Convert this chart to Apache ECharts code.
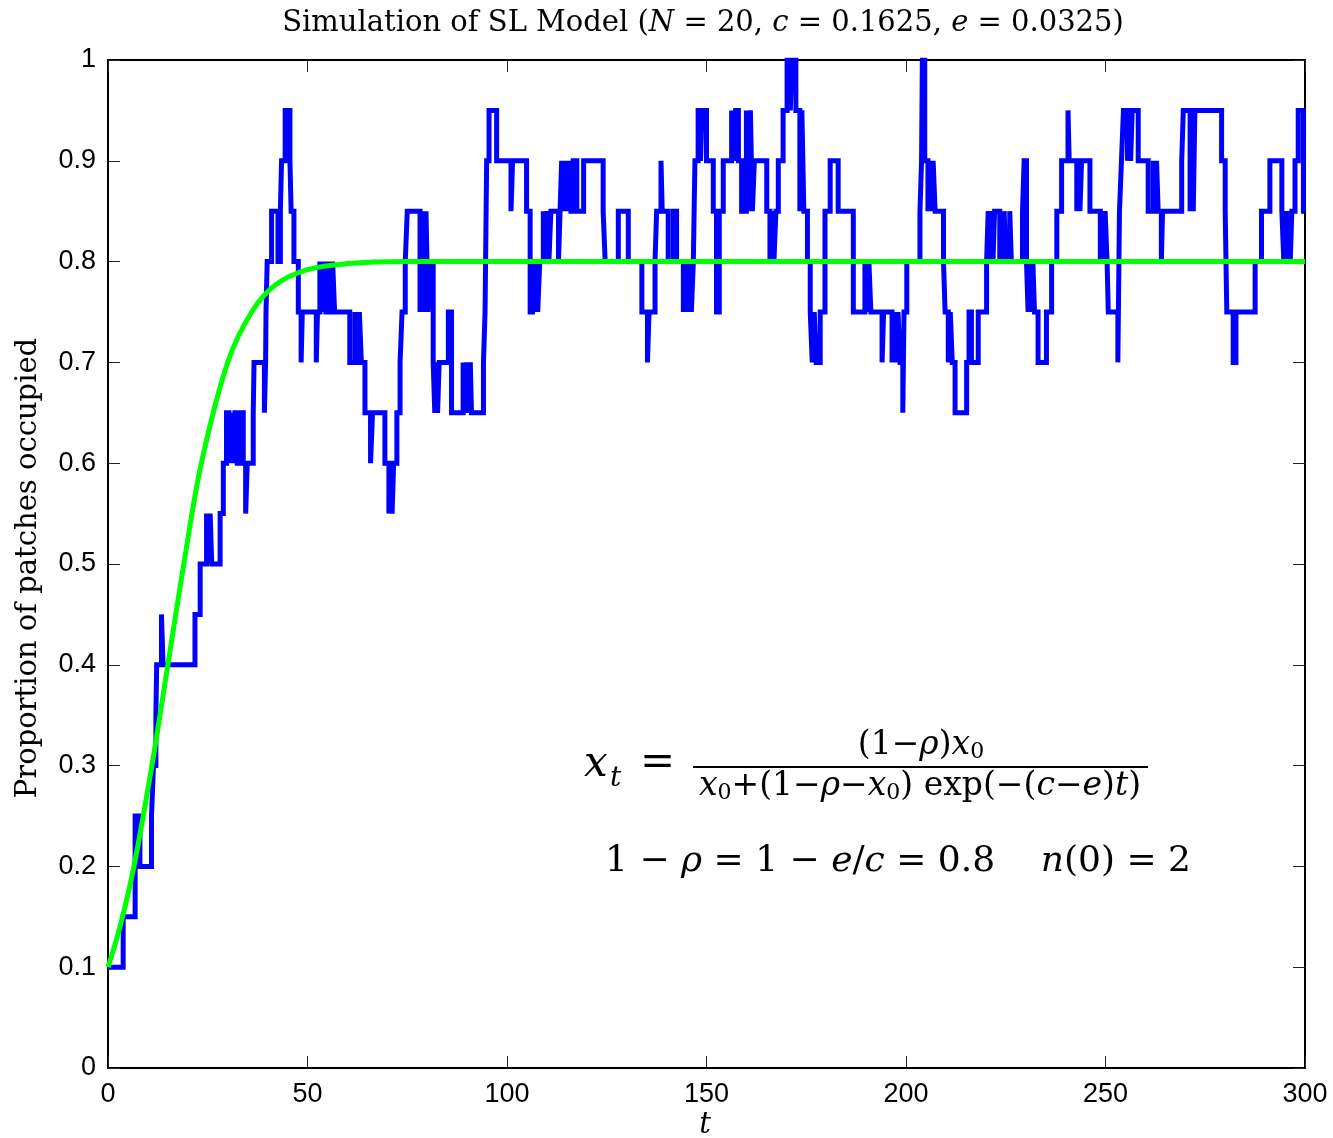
<!DOCTYPE html>
<html>
<head>
<meta charset="utf-8">
<script src="https://cdn.jsdelivr.net/npm/echarts@6/dist/echarts.min.js"></script>
<style>
  html, body { margin: 0; padding: 0; background: #fff; }
  #main { width: 1333px; height: 1138px; }
</style>
</head>
<body>
<div id="main"></div>
<script>
// simulated run: time of each change and proportion occupied from then on
var stepT = [0, 3.8, 6.8, 8.0, 10.9, 11.4, 12.0, 12.2, 13.4, 13.8, 21.8, 23.1, 24.7, 25.2, 25.6, 26.0, 28.1, 28.9,
  29.7, 30.3, 30.8, 31.3, 31.8, 32.4, 33.0, 33.9, 34.5, 34.9, 36.4, 36.6, 39.2, 39.5, 39.6, 39.9, 41.0, 42.6, 43.2,
  43.5, 44.4, 45.6, 45.9, 46.6, 47.7, 48.4, 48.7, 52.2, 52.5, 53.1, 53.6, 54.1, 54.6, 55.2, 55.7, 56.3, 56.8,
  60.6, 61.9, 62.4, 63.0, 63.5, 64.4, 65.8, 66.3, 69.4, 70.4, 70.9, 71.2, 71.6, 72.4, 73.2, 73.7, 74.5, 75.0,
  78.2, 78.7, 79.2, 79.7, 80.2, 80.7, 81.5, 81.9, 82.3, 82.6, 83.0, 85.3, 86.1, 89.0, 89.4, 89.8, 90.3, 90.8, 91.1,
  94.1, 94.5, 94.9, 95.5, 97.4, 101.0, 101.4, 104.9, 105.8, 106.4, 106.8, 107.3, 107.7, 108.2, 109.1, 109.5, 110.0,
  110.5, 111.0, 112.9, 113.3, 113.7, 114.1, 114.6, 115.0, 115.5, 116.0, 116.6, 117.5, 119.2, 124.1, 124.6, 127.9,
  130.4, 133.8, 135.2, 135.6, 137.1, 137.5, 138.6, 138.9, 140.4, 141.7, 142.5, 144.2, 144.7, 145.2, 145.7, 146.2,
  146.7, 147.1, 147.9, 148.5, 148.9, 150.0, 151.7, 152.5, 153.2, 154.2, 156.3, 156.8, 157.3, 158.0, 158.8, 160.0,
  160.5, 161.0, 161.5, 162.0, 165.1, 165.9, 166.4, 166.9, 167.4, 168.0, 169.2, 170.2, 171.0, 171.4, 172.4, 173.4,
  173.9, 174.4, 175.3, 176.0, 176.5, 177.0, 177.5, 178.5, 179.7, 181.0, 183.0, 186.8, 189.7, 190.2, 190.7, 191.2,
  194.0, 194.4, 196.5, 197.0, 197.5, 198.0, 198.5, 199.2, 199.5, 200.2, 203.5, 203.9, 204.1, 204.7, 205.5, 205.9,
  206.3, 206.8, 207.3, 209.4, 209.8, 210.6, 211.1, 211.6, 212.3, 215.2, 215.8, 216.4, 218.1, 220.2, 220.6, 221.0,
  221.4, 221.8, 222.2, 223.5, 224.6, 225.0, 226.0, 226.4, 229.2, 229.6, 230.2, 230.6, 231.0, 231.4, 231.8, 232.2,
  233.1, 235.2, 236.5, 237.8, 239.0, 240.6, 240.9, 242.8, 243.2, 243.6, 244.0, 246.1, 248.7, 249.1, 249.5, 249.9,
  250.4, 250.7, 253.1, 253.5, 254.0, 254.5, 255.5, 255.9, 256.3, 256.7, 258.2, 260.7, 262.0, 262.4, 262.8, 263.2,
  264.0, 264.3, 269.1, 269.5, 271.2, 271.6, 272.0, 272.4, 272.8, 279.1, 280.0, 280.4, 282.0, 282.7, 287.5, 289.1,
  291.2, 294.2, 294.7, 295.1, 295.5, 295.9, 296.3, 296.7, 297.5, 298.3, 299.6, 300];
var stepP = [0.10, 0.15, 0.25, 0.20, 0.25, 0.30, 0.35, 0.40, 0.45, 0.40, 0.45, 0.50, 0.55, 0.50, 0.55, 0.50, 0.55, 0.60,
  0.65, 0.60, 0.65, 0.60, 0.65, 0.60, 0.65, 0.60, 0.55, 0.60, 0.65, 0.70, 0.65, 0.70, 0.75, 0.80, 0.85, 0.80, 0.85,
  0.90, 0.95, 0.90, 0.85, 0.80, 0.75, 0.70, 0.75, 0.70, 0.75, 0.80, 0.75, 0.80, 0.75, 0.80, 0.75, 0.80, 0.75,
  0.70, 0.75, 0.70, 0.75, 0.70, 0.65, 0.60, 0.65, 0.60, 0.55, 0.60, 0.55, 0.60, 0.65, 0.70, 0.75, 0.80, 0.85,
  0.75, 0.85, 0.75, 0.85, 0.75, 0.80, 0.70, 0.65, 0.70, 0.65, 0.70, 0.75, 0.65, 0.70, 0.65, 0.70, 0.65, 0.70, 0.65,
  0.70, 0.75, 0.90, 0.95, 0.90, 0.85, 0.90, 0.85, 0.75, 0.80, 0.75, 0.80, 0.75, 0.80, 0.85, 0.80, 0.85,
  0.80, 0.85, 0.80, 0.85, 0.90, 0.85, 0.90, 0.85, 0.90, 0.85, 0.90, 0.85, 0.90, 0.85, 0.80, 0.85,
  0.80, 0.75, 0.70, 0.75, 0.80, 0.85, 0.90, 0.85, 0.80, 0.85, 0.80, 0.75, 0.80, 0.75, 0.80, 0.75,
  0.80, 0.90, 0.95, 0.90, 0.95, 0.90, 0.85, 0.75, 0.85, 0.90, 0.95, 0.90, 0.95, 0.90, 0.85, 0.95,
  0.85, 0.95, 0.85, 0.90, 0.85, 0.80, 0.85, 0.80, 0.85, 0.90, 0.95, 1.00, 0.95, 1.00, 0.95, 0.85,
  0.95, 0.85, 0.80, 0.75, 0.70, 0.75, 0.70, 0.75, 0.85, 0.90, 0.85, 0.75, 0.80, 0.75, 0.80, 0.75,
  0.70, 0.75, 0.70, 0.75, 0.70, 0.75, 0.70, 0.65, 0.75, 0.80, 0.85, 0.90, 1.00, 0.90, 0.85, 0.90,
  0.85, 0.90, 0.85, 0.80, 0.75, 0.70, 0.75, 0.70, 0.65, 0.70, 0.75, 0.70, 0.75, 0.80, 0.85, 0.80,
  0.85, 0.80, 0.85, 0.80, 0.85, 0.80, 0.85, 0.80, 0.85, 0.90, 0.80, 0.75, 0.80, 0.75, 0.80, 0.75,
  0.70, 0.75, 0.80, 0.85, 0.90, 0.95, 0.90, 0.85, 0.90, 0.85, 0.90, 0.85, 0.80, 0.85, 0.80, 0.85,
  0.80, 0.75, 0.70, 0.85, 0.90, 0.95, 0.90, 0.95, 0.90, 0.95, 0.90, 0.85, 0.90, 0.85, 0.90, 0.85,
  0.80, 0.85, 0.90, 0.95, 0.85, 0.95, 0.85, 0.95, 0.95, 0.90, 0.85, 0.75, 0.70, 0.75, 0.80, 0.85,
  0.90, 0.85, 0.80, 0.85, 0.80, 0.85, 0.80, 0.85, 0.90, 0.95, 0.85, 0.85];

// deterministic curve, points
var curveT = [0, 3, 6.5, 11, 15, 19, 23.4, 30, 36, 42, 50, 60, 75, 100, 300];
var curveP = [0.10, 0.14, 0.20, 0.30, 0.40, 0.50, 0.60, 0.70, 0.75, 0.777, 0.792, 0.798, 0.80, 0.80, 0.80];

var xTicks = [0, 50, 100, 150, 200, 250, 300];

var stepData = stepT.map(function (t, i) { return [t, stepP[i]]; });
var curveData = curveT.map(function (t, i) { return [t, curveP[i]]; });

var serif = '"DejaVu Serif", "Liberation Serif", serif';
var sans = '"Liberation Sans", Arial, sans-serif';

var myChart = echarts.init(document.getElementById('main'));

var tickStyle = { show: true, inside: true, length: 12, lineStyle: { color: '#222', width: 1 } };
var lineBox = { show: true, onZero: false, lineStyle: { color: '#000', width: 2 } };

// rich styles for the math text
function mathRich(size) {
    return {
        r: { fontFamily: serif, fontSize: size, fill: '#000' },
        i: { fontFamily: serif, fontSize: size, fontStyle: 'italic', fill: '#000' },
        s: { fontFamily: serif, fontSize: Math.round(size * 0.68), fill: '#000', padding: [Math.round(size * 0.42), 0, 0, 0] }
    };
}

myChart.setOption({
    backgroundColor: '#fff',
    animation: false,
    grid: { left: 108, right: 28, top: 60, bottom: 70 },
    xAxis: [{
        type: 'value', min: 0, max: 300, interval: 50,
        axisLine: lineBox, axisTick: tickStyle, splitLine: { show: false },
        axisLabel: { color: '#000', fontFamily: sans, fontSize: 27, margin: 13,
            formatter: function (v) { return xTicks.indexOf(v) >= 0 ? String(v) : ''; } }
    }, {
        type: 'value', position: 'top', min: 0, max: 300, interval: 50,
        axisLine: lineBox, axisTick: tickStyle, splitLine: { show: false }, axisLabel: { show: false }
    }],
    yAxis: [{
        type: 'value', min: 0, max: 1, interval: 0.1,
        axisLine: lineBox, axisTick: tickStyle, splitLine: { show: false },
        axisLabel: { color: '#000', fontFamily: sans, fontSize: 27, margin: 12,
            formatter: function (v) { return String(Math.round(v * 10) / 10); } }
    }, {
        type: 'value', position: 'right', min: 0, max: 1, interval: 0.1,
        axisLine: lineBox, axisTick: tickStyle, splitLine: { show: false }, axisLabel: { show: false }
    }],
    series: [{
        type: 'line', name: 'simulation', step: 'end', data: stepData, showSymbol: false,
        lineStyle: { color: '#0000ff', width: 5, join: 'miter' }, z: 3
    }, {
        type: 'line', name: 'logistic', smooth: 0.35, data: curveData, showSymbol: false,
        lineStyle: { color: '#00ff00', width: 5 }, z: 4
    }],
    graphic: [
        // title
        { type: 'text', x: 703, y: 23, style: {
            text: '{r|Simulation of SL Model (}{i|N}{r| = 20, }{i|c}{r| = 0.1625, }{i|e}{r| = 0.0325)}',
            align: 'center', verticalAlign: 'middle', rich: mathRich(29) } },
        // y label
        { type: 'text', x: 28, y: 568, rotation: Math.PI / 2, style: {
            text: 'Proportion of patches occupied', fontFamily: serif, fontSize: 29, fill: '#000',
            align: 'center', verticalAlign: 'middle' } },
        // x label
        { type: 'text', x: 705, y: 1125, style: {
            text: 't', fontFamily: serif, fontSize: 29, fontStyle: 'italic', fill: '#000',
            align: 'center', verticalAlign: 'middle' } },
        // equation x_t = ...
        { type: 'text', x: 584, y: 765, style: { text: 'x', fontFamily: serif, fontSize: 42, fontStyle: 'italic',
            fill: '#000', verticalAlign: 'middle' } },
        { type: 'text', x: 610, y: 779, style: { text: 't', fontFamily: serif, fontSize: 28, fontStyle: 'italic',
            fill: '#000', verticalAlign: 'middle' } },
        { type: 'text', x: 640, y: 764, style: { text: '=', fontFamily: serif, fontSize: 42,
            fill: '#000', verticalAlign: 'middle' } },
        { type: 'text', x: 921, y: 745, style: {
            text: '{r|(1\u2212}{i|\u03c1}{r|)}{i|x}{s|0}',
            align: 'center', verticalAlign: 'middle', rich: mathRich(33) } },
        { type: 'line', shape: { x1: 693, y1: 767, x2: 1148, y2: 767 }, style: { stroke: '#000', lineWidth: 2 } },
        { type: 'text', x: 920, y: 786, style: {
            text: '{i|x}{s|0}{r|+(1\u2212}{i|\u03c1}{r|\u2212}{i|x}{s|0}{r|) exp(\u2212(}{i|c}{r|\u2212}{i|e}{r|)}{i|t}{r|)}',
            align: 'center', verticalAlign: 'middle', rich: mathRich(33) } },
        // 1 - rho = 1 - e/c = 0.8   n(0) = 2
        { type: 'text', x: 898, y: 862, style: {
            text: '{r|1 \u2212 }{i|\u03c1}{r| = 1 \u2212 }{i|e}{r|/}{i|c}{r| = 0.8    }{i|n}{r|(0) = 2}',
            align: 'center', verticalAlign: 'middle', rich: mathRich(36) } }
    ]
});
</script>
</body>
</html>
